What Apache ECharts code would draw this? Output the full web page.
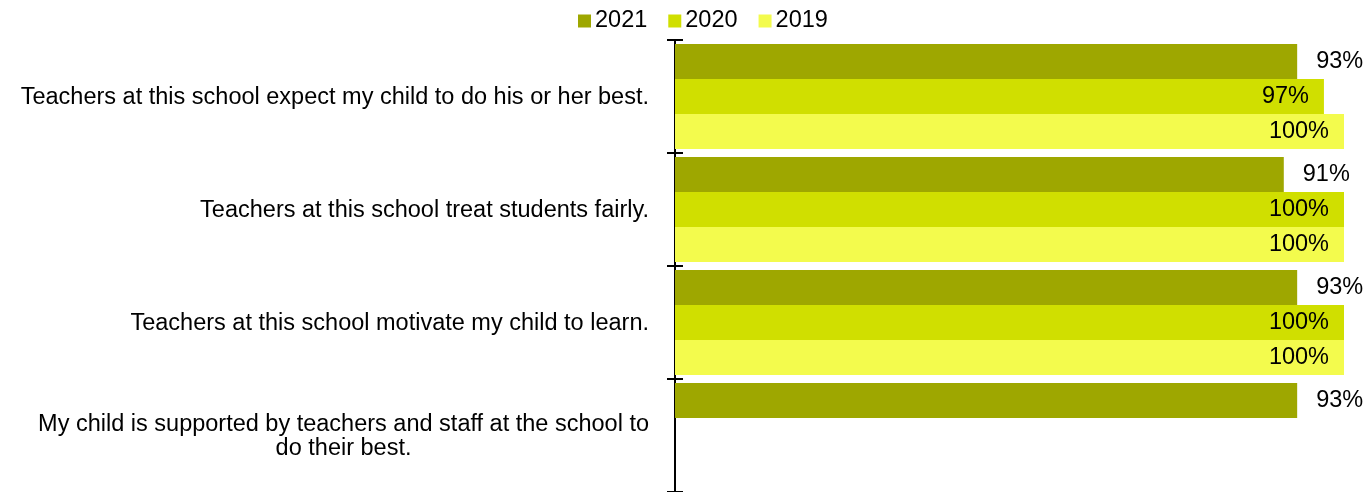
<!DOCTYPE html>
<html>
<head>
<meta charset="utf-8">
<script src="https://cdn.jsdelivr.net/npm/echarts@6/dist/echarts.min.js"></script>
<style>
  html, body { margin: 0; padding: 0; background: #fff; }
  #chart { width: 1365px; height: 492px; }
</style>
</head>
<body>
<div id="chart"></div>
<script>
const categories = [
  'Teachers at this school expect my child to do his or her best.',
  'Teachers at this school treat students fairly.',
  'Teachers at this school motivate my child to learn.',
  'My child is supported by teachers and staff at the school to\ndo their best.'
]
const seriesNames = ['2021', '2020', '2019']
const values2021 = [93, 91, 93, 93]
const values2020 = [97, 100, 100, null]
const values2019 = [100, 100, 100, null]

const colors = ['#9ea700', '#d0df00', '#f3fb4d']
const font = 'Liberation Sans, Arial, sans-serif'
const fontSize = 23.5

function makeSeries(name, values, color) {
  return {
    name,
    type: 'bar',
    barGap: '0%',
    barCategoryGap: '7%',
    itemStyle: { color },
    data: values.map(v => {
      // labels near the plot edge sit inside the bar
      const inside = v > 95
      return {
        value: v,
        label: {
          show: v != null,
          position: inside ? 'insideRight' : 'right',
          distance: inside ? 15 : 19,
          formatter: '{c}%',
          color: '#000',
          fontFamily: font,
          fontSize
        }
      }
    })
  }
}

const chart = echarts.init(document.getElementById('chart'))
chart.setOption({
  animation: false,
  legend: {
    top: 4,
    left: 573,
    icon: 'rect',
    itemWidth: 13,
    itemHeight: 13,
    itemGap: 21,
    textStyle: { fontFamily: font, fontSize, color: '#000', padding: [0, 0, 0, -1] },
    data: seriesNames
  },
  grid: { left: 675, right: 21, top: 40, bottom: 0, containLabel: false },
  xAxis: { type: 'value', min: 0, max: 100, show: false },
  yAxis: [
    {
      type: 'category',
      inverse: true,
      data: categories,
      axisLine: { show: true, lineStyle: { color: '#000', width: 2 } },
      axisTick: { show: true, length: 8, lineStyle: { color: '#000', width: 2 } },
      axisLabel: {
        margin: 26,
        color: '#000',
        formatter: v => v.split('\n').map(s => '{c|' + s + '}').join('\n'),
        rich: { c: { align: 'center', fontFamily: font, fontSize, color: '#000', lineHeight: 24, padding: [2, 0, 0, 0] } }
      }
    },
    {
      type: 'category',
      inverse: true,
      position: 'left',
      data: categories,
      axisLine: { show: false },
      axisTick: { show: true, inside: true, length: 8, lineStyle: { color: '#000', width: 2 } },
      axisLabel: { show: false }
    }
  ],
  series: [
    makeSeries(seriesNames[0], values2021, colors[0]),
    makeSeries(seriesNames[1], values2020, colors[1]),
    makeSeries(seriesNames[2], values2019, colors[2])
  ]
})
</script>
</body>
</html>
